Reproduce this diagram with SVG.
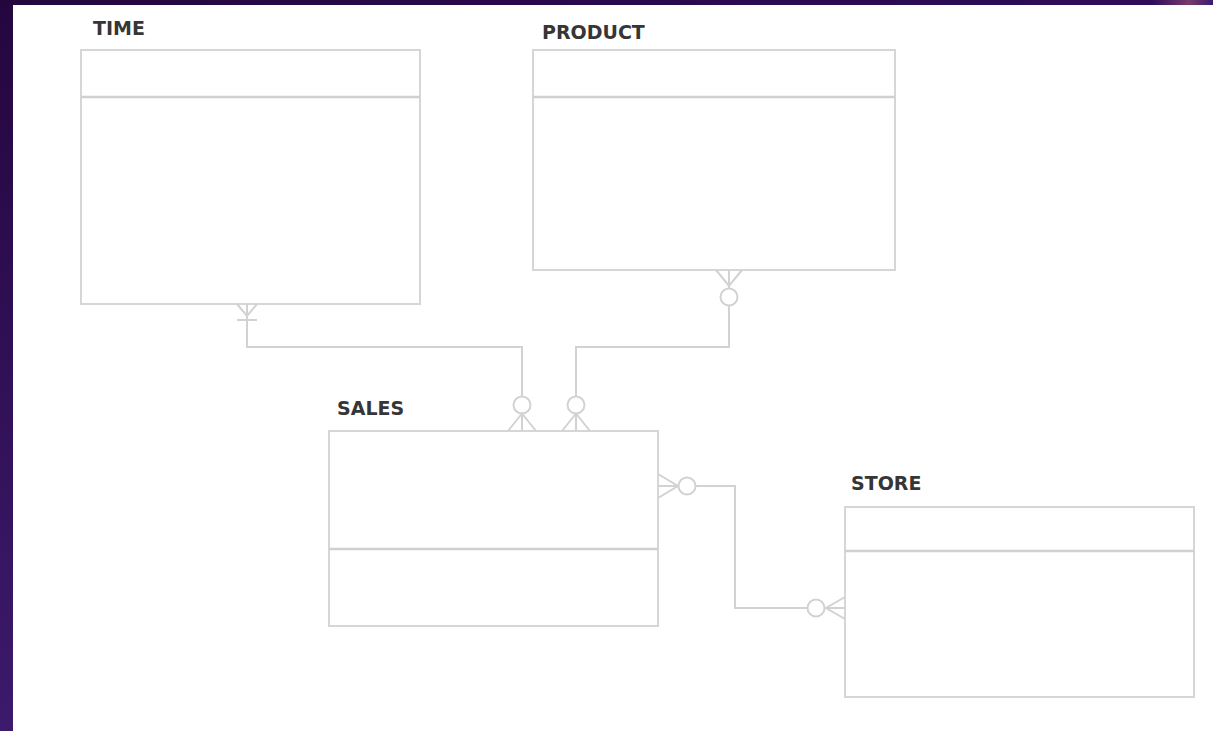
<svg xmlns="http://www.w3.org/2000/svg" width="1213" height="731" viewBox="0 0 1213 731">
  <defs>
    <linearGradient id="leftGrad" x1="0" y1="0" x2="0" y2="1">
      <stop offset="0" stop-color="#24063f"/>
      <stop offset="1" stop-color="#3c1a6c"/>
    </linearGradient>
    <linearGradient id="topGrad" x1="0" y1="0" x2="1" y2="0">
      <stop offset="0" stop-color="#24063f"/>
      <stop offset="0.95" stop-color="#2e0c5a"/>
      <stop offset="0.98" stop-color="#7a3a6a"/>
      <stop offset="1" stop-color="#3a1a70"/>
    </linearGradient>
    <style>
      .box { fill: #ffffff; stroke: #d6d6d6; stroke-width: 2; }
      .sep { stroke: #d0d0d0; stroke-width: 2.5; fill: none; }
      .lbl { font-family: "DejaVu Sans", Verdana, sans-serif; font-weight: bold; font-size: 19px; fill: #363636; }
      .con { stroke: #d2d2d2; stroke-width: 2; fill: none; }
      .circ { stroke: #d2d2d2; stroke-width: 2; fill: #ffffff; }
    </style>
  </defs>
  <rect x="0" y="0" width="1213" height="731" fill="#ffffff"/>
  <rect x="0" y="0" width="1213" height="5" fill="url(#topGrad)"/>
  <rect x="0" y="0" width="13" height="731" fill="url(#leftGrad)"/>

  <g id="TIME">
    <rect class="box" x="81" y="50" width="339" height="254"/>
    <line class="sep" x1="81" y1="97" x2="420" y2="97"/>
    <text class="lbl" x="93" y="35">TIME</text>
  </g>
  <g id="PRODUCT">
    <rect class="box" x="533" y="50" width="362" height="220"/>
    <line class="sep" x1="533" y1="97" x2="895" y2="97"/>
    <text class="lbl" x="542" y="39">PRODUCT</text>
  </g>
  <g id="SALES">
    <rect class="box" x="329" y="431" width="329" height="195"/>
    <line class="sep" x1="329" y1="549" x2="658" y2="549"/>
    <text class="lbl" x="337" y="415">SALES</text>
  </g>
  <g id="STORE">
    <rect class="box" x="845" y="507" width="349" height="190"/>
    <line class="sep" x1="845" y1="551" x2="1194" y2="551"/>
    <text class="lbl" x="851" y="490">STORE</text>
  </g>

  <g id="connectors">
    <path class="con" d="M247,304 V347 H522 V397"/>
    <path class="con" d="M237,304 L247,316 L257,304"/>
    <line class="con" x1="237" y1="320" x2="257" y2="320"/>
    <circle class="circ" cx="522" cy="405" r="8.5"/>
    <path class="con" d="M508,431 L522,413.5 L536,431 M522,413.5 V431"/>

    <path class="con" d="M729,305.5 V347 H576 V397"/>
    <path class="con" d="M716,270 L729,286 L742,270 M729,270 V288.5"/>
    <circle class="circ" cx="729" cy="297" r="8.5"/>
    <circle class="circ" cx="576" cy="405" r="8.5"/>
    <path class="con" d="M562,431 L576,413.5 L590,431 M576,413.5 V431"/>

    <path class="con" d="M696,486 H735 V608 H808"/>
    <path class="con" d="M658,474 L678,486 L658,498 M658,486 H678.5"/>
    <circle class="circ" cx="687" cy="486" r="8.5"/>
    <circle class="circ" cx="816" cy="608" r="8.5"/>
    <path class="con" d="M845,597 L826,608 L845,619 M824.5,608 H845"/>
  </g>
</svg>
